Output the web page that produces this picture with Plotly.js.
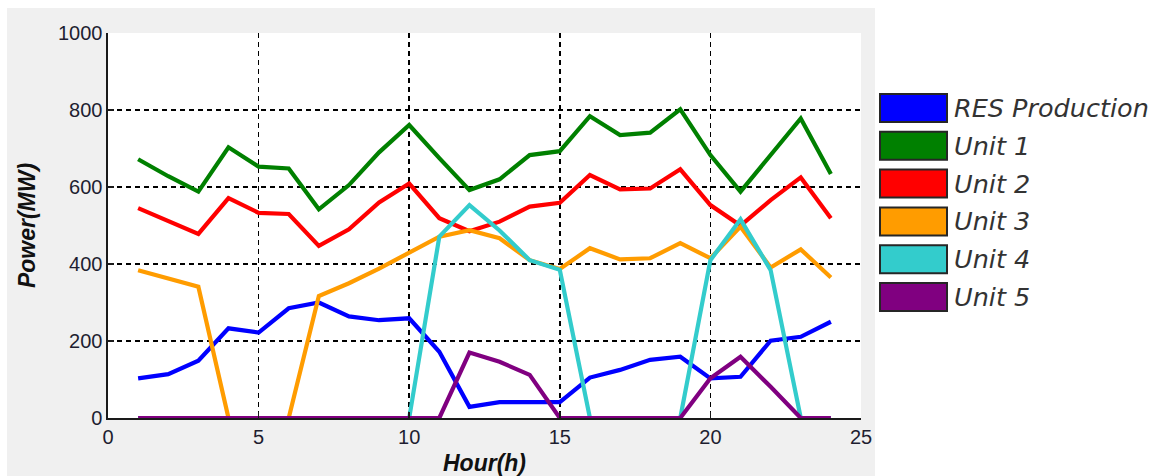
<!DOCTYPE html>
<html>
<head>
<meta charset="utf-8">
<script src="https://cdn.plot.ly/plotly-3.0.1.min.js"></script>
<style>
html,body{margin:0;padding:0;background:#ffffff;}
#chart{width:1158px;height:476px;}
</style>
</head>
<body>
<div id="chart"></div>
<script>
// ---- data ----
const hours = [1,2,3,4,5,6,7,8,9,10,11,12,13,14,15,16,17,18,19,20,21,22,23,24];
const seriesNames = ["RES Production", "Unit 1", "Unit 2", "Unit 3", "Unit 4", "Unit 5"];
const resProduction = [103,114,149,233,222,285,300,264,254,259,172,29,41,41,41,105,125,151,159,103,107,201,211,250];
const unit1 = [672,628,588,703,653,648,542,605,690,761,675,592,620,683,693,784,735,741,802,683,588,685,778,634];
const unit2 = [545,510,478,571,533,530,447,490,560,609,519,485,510,549,559,631,594,596,646,553,500,566,625,519];
const unit3 = [384,363,341,0,0,0,317,350,388,428,471,488,467,410,387,441,412,415,454,415,497,391,438,365];
const unit4 = [0,0,0,0,0,0,0,0,0,0,471,553,487,410,385,0,0,0,0,410,516,384,0,0];
const unit5 = [0,0,0,0,0,0,0,0,0,0,0,170,146,112,0,0,0,0,0,103,159,81,0,0];
const xTicks = [0,5,10,15,20,25];
const yTicks = [0,200,400,600,800,1000];

// ---- styling ----
const colors = ["#0000ff", "#008000", "#ff0000", "#ff9c00", "#33cccc", "#800080"];
const allSeries = [resProduction, unit1, unit2, unit3, unit4, unit5];

const W = 1158, H = 476;
const M = {l:108, r:297, t:33, b:58};
const plotW = W - M.l - M.r, plotH = H - M.t - M.b;
const px2x = p => (p - M.l) / plotW;
const px2y = p => (H - M.b - p) / plotH;

const traces = allSeries.map((ys, i) => ({
  type: "scatter",
  mode: "lines",
  x: hours,
  y: ys,
  name: seriesNames[i],
  line: {color: colors[i], width: 4.2},
  showlegend: false,
  hoverinfo: "x+y+name"
}));

const shapes = [
  // gray figure panel
  {type:"rect", xref:"paper", yref:"paper", layer:"below",
   x0:px2x(7), x1:px2x(875), y0:px2y(480), y1:px2y(8),
   fillcolor:"#f0f0f0", line:{width:0}},
  // white axes area
  {type:"rect", xref:"paper", yref:"paper", layer:"below",
   x0:0, x1:1, y0:0, y1:1, fillcolor:"#ffffff", line:{width:0}}
];
const annotations = [];
const rowY0 = 108, rowStep = 37.8;
seriesNames.forEach((nm, i) => {
  const cy = rowY0 + i * rowStep;
  shapes.push({type:"rect", xref:"paper", yref:"paper", layer:"above",
    x0:px2x(880), x1:px2x(947), y0:px2y(cy+14), y1:px2y(cy-14),
    fillcolor:colors[i], line:{color:"#262626", width:2}});
  annotations.push({xref:"paper", yref:"paper", x:px2x(952), y:px2y(cy),
    xanchor:"left", yanchor:"middle", showarrow:false, text:nm,
    font:{family:"DejaVu Sans, sans-serif", size:25.5, style:"italic", color:"#333333"}});
});

const axisFont = {family:"Liberation Sans, Arial, sans-serif", size:20, color:"#1e1e30"};
const titleFont = {family:"Liberation Sans, Arial, sans-serif", size:23, weight:"bold", style:"italic", color:"#111"};
const axisCommon = {
  showgrid: true, gridcolor: "#000000", griddash: "5px,4px", gridwidth: 1.6,
  showline: true, linecolor: "#1a1a1a", linewidth: 1.6,
  ticks: "inside", ticklen: 6, tickcolor: "#1a1a1a", tickwidth: 1.5,
  zeroline: false, tickfont: axisFont
};
const layout = {
  width: W, height: H,
  margin: M,
  paper_bgcolor: "#ffffff",
  plot_bgcolor: "#ffffff",
  showlegend: false,
  xaxis: Object.assign({}, axisCommon, {
    range: [0, 25], tickvals: xTicks, ticktext: xTicks.map(String),
    title: {text: "Hour(h)", standoff: 11, font: titleFont}
  }),
  yaxis: Object.assign({}, axisCommon, {
    range: [0, 1000], tickvals: yTicks, ticktext: yTicks.map(String),
    title: {text: "Power(MW)", standoff: 16, font: titleFont}
  }),
  shapes: shapes,
  annotations: annotations
};

Plotly.newPlot("chart", traces, layout, {displayModeBar:false, staticPlot:true});
</script>
</body>
</html>
